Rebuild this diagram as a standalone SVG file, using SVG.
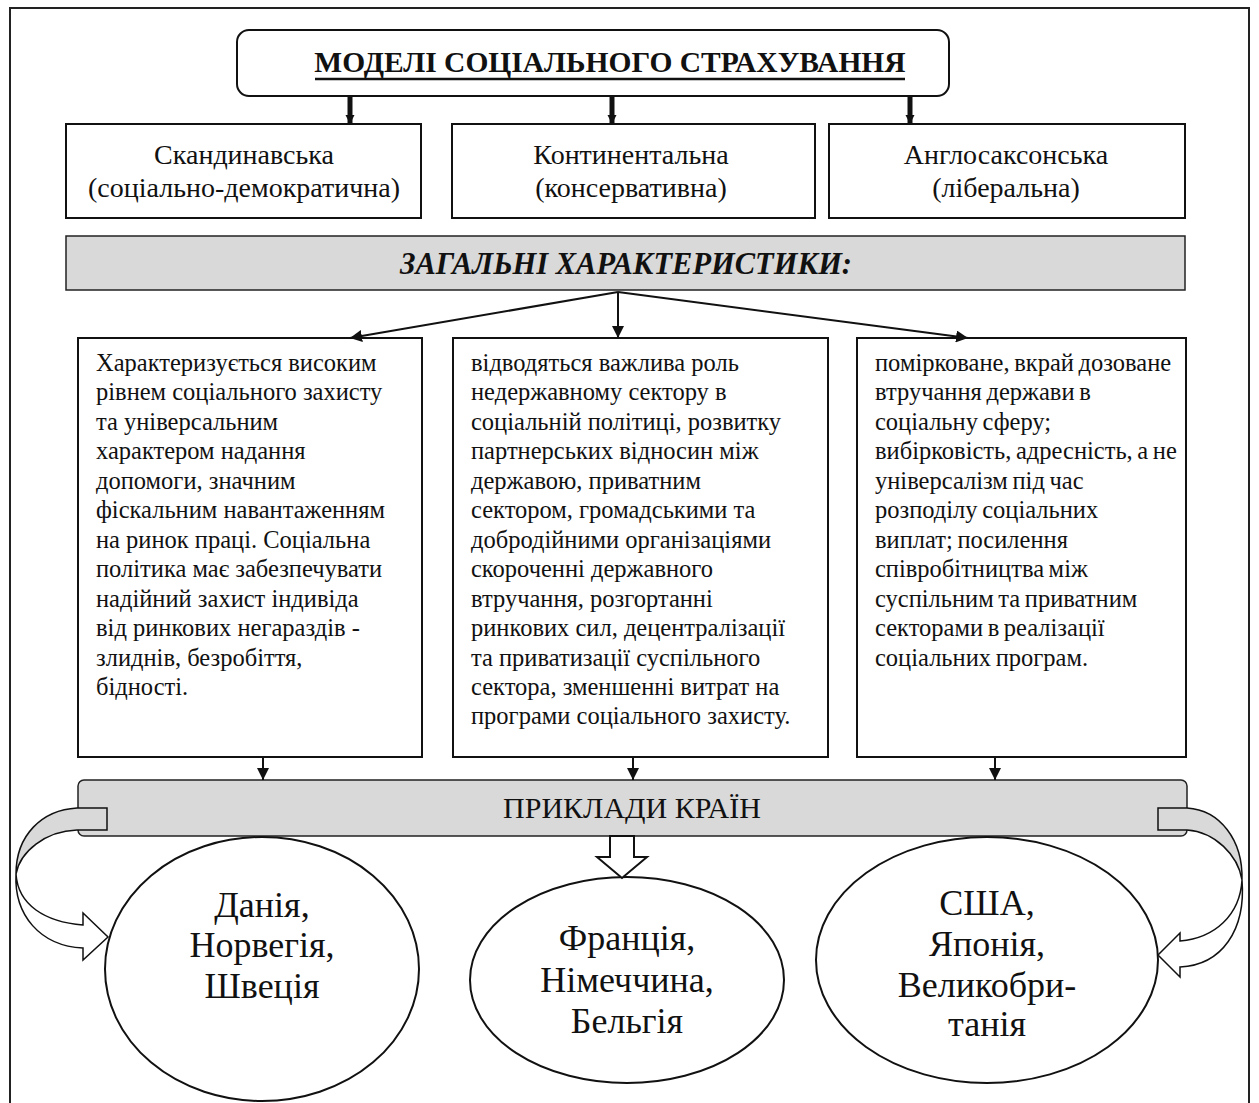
<svg xmlns="http://www.w3.org/2000/svg" width="1259" height="1103" viewBox="0 0 1259 1103">
<defs>
<style>
.t{font-family:"Liberation Serif","Times New Roman",serif;fill:#111;}
.box{fill:#fff;stroke:#111;stroke-width:2;}
.bar{fill:#d9d9d9;stroke:#222;stroke-width:1.5;}
.ln{stroke:#111;stroke-width:2;fill:none;}
.thick{stroke:#111;stroke-width:5;fill:none;}
.body{font-size:24.5px;}
.hd{font-size:28px;text-anchor:middle;}
.el{font-size:36px;text-anchor:middle;}
</style>
<marker id="ah" viewBox="0 0 10 10" refX="10" refY="5" markerWidth="12" markerHeight="12" markerUnits="userSpaceOnUse" orient="auto">
<path d="M0,0 L10,5 L0,10 Z" fill="#111"/>
</marker>
<marker id="ahT" viewBox="0 0 10 10" refX="10" refY="5" markerWidth="9" markerHeight="12" markerUnits="userSpaceOnUse" orient="auto">
<path d="M0,0 L10,5 L0,10 Z" fill="#111"/>
</marker>
</defs>
<rect x="0" y="0" width="1259" height="1103" fill="#fff"/>
<rect x="10" y="8" width="1239" height="1110" fill="none" stroke="#222" stroke-width="2"/>

<g id="title">
<rect x="237" y="30" width="712" height="66" rx="12" class="box"/>
<text x="610" y="72" class="t" font-size="29.5" font-weight="bold" text-anchor="middle">МОДЕЛІ СОЦІАЛЬНОГО СТРАХУВАННЯ</text>
<line x1="315" y1="79" x2="905" y2="79" stroke="#111" stroke-width="2.5"/>
</g>

<g id="model-scand">
<rect x="66" y="124" width="355" height="94" class="box"/>
<text class="t hd" x="244" y="164">Скандинавська</text>
<text class="t hd" x="244" y="197">(соціально-демократична)</text>
</g>
<g id="model-cont">
<rect x="452" y="124" width="363" height="94" class="box"/>
<text class="t hd" x="631" y="164">Континентальна</text>
<text class="t hd" x="631" y="197">(консервативна)</text>
</g>
<g id="model-anglo">
<rect x="829" y="124" width="356" height="94" class="box"/>
<text class="t hd" x="1006" y="164">Англосаксонська</text>
<text class="t hd" x="1006" y="197">(ліберальна)</text>
</g>

<g id="general">
<rect x="66" y="236" width="1119" height="54" class="bar"/>
<text x="626" y="274" class="t" font-size="30.5" font-weight="bold" font-style="italic" text-anchor="middle">ЗАГАЛЬНІ ХАРАКТЕРИСТИКИ:</text>
</g>

<g id="desc-scand">
<rect x="78" y="338" width="344" height="419" class="box"/>
<text class="t body" x="96" y="371">
<tspan x="96" dy="0">Характеризується високим</tspan>
<tspan x="96" dy="29.45">рівнем соціального захисту</tspan>
<tspan x="96" dy="29.45">та універсальним</tspan>
<tspan x="96" dy="29.45">характером надання</tspan>
<tspan x="96" dy="29.45">допомоги, значним</tspan>
<tspan x="96" dy="29.45">фіскальним навантаженням</tspan>
<tspan x="96" dy="29.45">на ринок праці. Соціальна</tspan>
<tspan x="96" dy="29.45">політика має забезпечувати</tspan>
<tspan x="96" dy="29.45">надійний захист індивіда</tspan>
<tspan x="96" dy="29.45">від ринкових негараздів -</tspan>
<tspan x="96" dy="29.45">злиднів, безробіття,</tspan>
<tspan x="96" dy="29.45">бідності.</tspan>
</text>
</g>
<g id="desc-cont">
<rect x="453" y="338" width="375" height="419" class="box"/>
<text class="t body" x="471" y="371">
<tspan x="471" dy="0">відводяться важлива роль</tspan>
<tspan x="471" dy="29.45">недержавному сектору в</tspan>
<tspan x="471" dy="29.45">соціальній політиці, розвитку</tspan>
<tspan x="471" dy="29.45">партнерських відносин між</tspan>
<tspan x="471" dy="29.45">державою, приватним</tspan>
<tspan x="471" dy="29.45">сектором, громадськими та</tspan>
<tspan x="471" dy="29.45">добродійними організаціями</tspan>
<tspan x="471" dy="29.45">скороченні державного</tspan>
<tspan x="471" dy="29.45">втручання, розгортанні</tspan>
<tspan x="471" dy="29.45">ринкових сил, децентралізації</tspan>
<tspan x="471" dy="29.45">та приватизації суспільного</tspan>
<tspan x="471" dy="29.45">сектора, зменшенні витрат на</tspan>
<tspan x="471" dy="29.45">програми соціального захисту.</tspan>
</text>
</g>
<g id="desc-anglo">
<rect x="857" y="338" width="329" height="419" class="box"/>
<text class="t body" x="875" y="371" word-spacing="-1.5">
<tspan x="875" dy="0">помірковане, вкрай дозоване</tspan>
<tspan x="875" dy="29.45">втручання держави в</tspan>
<tspan x="875" dy="29.45">соціальну сферу;</tspan>
<tspan x="875" dy="29.45">вибірковість, адресність, а не</tspan>
<tspan x="875" dy="29.45">універсалізм під час</tspan>
<tspan x="875" dy="29.45">розподілу соціальних</tspan>
<tspan x="875" dy="29.45">виплат; посилення</tspan>
<tspan x="875" dy="29.45">співробітництва між</tspan>
<tspan x="875" dy="29.45">суспільним та приватним</tspan>
<tspan x="875" dy="29.45">секторами в реалізації</tspan>
<tspan x="875" dy="29.45">соціальних програм.</tspan>
</text>
</g>

<g id="examples">
<rect x="78" y="780" width="1109" height="56" rx="6" class="bar"/>
<text x="632" y="818" class="t" font-size="30" text-anchor="middle">ПРИКЛАДИ КРАЇН</text>
</g>

<g id="ex-scand">
<ellipse cx="262" cy="969" rx="157" ry="132" class="box"/>
<text class="t el" x="262" y="917">Данія,</text>
<text class="t el" x="262" y="957">Норвегія,</text>
<text class="t el" x="262" y="998">Швеція</text>
</g>
<g id="ex-cont">
<ellipse cx="627" cy="980" rx="157" ry="103" class="box"/>
<text class="t el" font-size="35" x="627" y="950">Франція,</text>
<text class="t el" font-size="35" x="627" y="992">Німеччина,</text>
<text class="t el" font-size="35" x="627" y="1033">Бельгія</text>
</g>
<g id="ex-anglo">
<ellipse cx="987" cy="960" rx="171" ry="123" class="box"/>
<text class="t el" font-size="35" x="987" y="915">США,</text>
<text class="t el" font-size="35" x="987" y="956">Японія,</text>
<text class="t el" font-size="35" x="987" y="997">Великобри-</text>
<text class="t el" font-size="35" x="987" y="1036">танія</text>
</g>

<g id="connectors">
<line x1="350" y1="96" x2="350" y2="124" class="thick" marker-end="url(#ahT)"/>
<line x1="612" y1="96" x2="612" y2="124" class="thick" marker-end="url(#ahT)"/>
<line x1="910" y1="96" x2="910" y2="124" class="thick" marker-end="url(#ahT)"/>
<line x1="618" y1="292" x2="350" y2="338" class="ln" marker-end="url(#ah)"/>
<line x1="618" y1="292" x2="618" y2="338" class="ln" marker-end="url(#ah)"/>
<line x1="618" y1="292" x2="968" y2="338" class="ln" marker-end="url(#ah)"/>
<line x1="263" y1="757" x2="263" y2="780" class="ln" marker-end="url(#ah)"/>
<line x1="633" y1="757" x2="633" y2="780" class="ln" marker-end="url(#ah)"/>
<line x1="995" y1="757" x2="995" y2="780" class="ln" marker-end="url(#ah)"/>
<path d="M610,836 L634,836 L634,857 L647,857 L622,878 L597,857 L610,857 Z" fill="#fff" stroke="#111" stroke-width="2"/>
<path d="M107,808 L77,808 C42,810 16,835 16,874 C20,852 45,831 77,830 L107,830 Z" fill="#d9d9d9" stroke="#111" stroke-width="1.5"/>
<path d="M16,874 C18,905 45,922 83,925 L83,913 L108,937 L83,960 L83,948 C40,946 14,915 16,874 Z" fill="#fff" stroke="#111" stroke-width="1.5"/>
<path d="M1158,808 L1187,808 C1220,810 1243,840 1242,880 C1238,855 1215,832 1187,830 L1158,830 Z" fill="#d9d9d9" stroke="#111" stroke-width="1.5"/>
<path d="M1242,880 C1240,915 1215,938 1180,941 L1180,933 L1158,955 L1180,977 L1180,967 C1222,965 1246,930 1242,880 Z" fill="#fff" stroke="#111" stroke-width="1.5"/>
</g>
</svg>
